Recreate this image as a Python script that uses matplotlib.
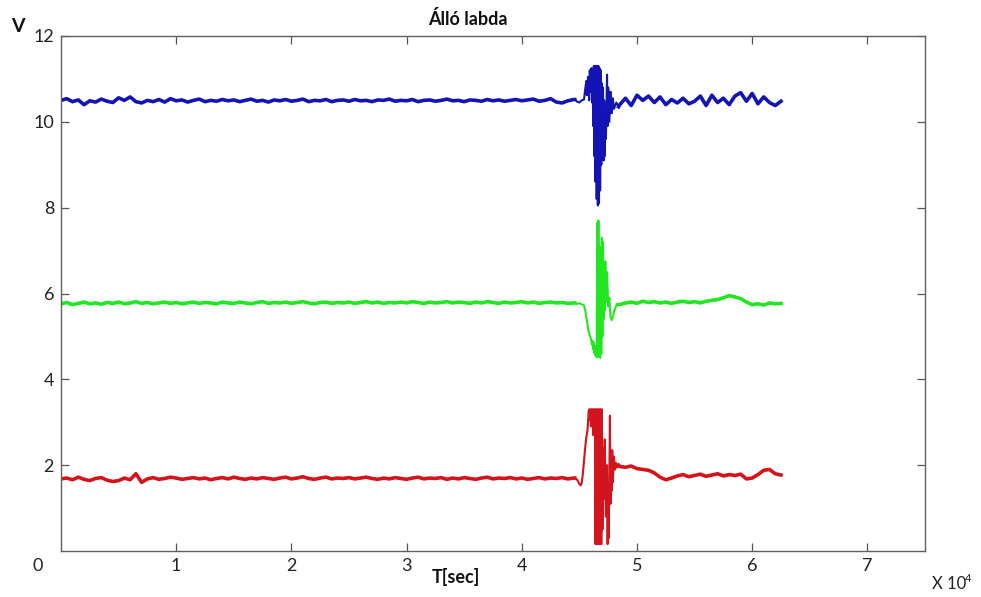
import numpy as np
import matplotlib
matplotlib.use("Agg")
import matplotlib.pyplot as plt

plt.rcParams['font.family'] = ['Lato', 'DejaVu Sans']

# ---- sample times (x 10^4 sec) ----
t_pre = np.round(np.arange(0.0, 4.45 + 1e-9, 0.05), 3)      # 90 samples
t_post = np.round(np.arange(4.85, 6.25 + 1e-9, 0.05), 3)    # 29 samples

# ---- channel 1 (blue) ----
blue_pre = [
    10.50, 10.54, 10.47, 10.51, 10.40, 10.49, 10.46, 10.53, 10.48, 10.45,
    10.56, 10.50, 10.58, 10.47, 10.44, 10.50, 10.47, 10.52, 10.46, 10.54,
    10.49, 10.51, 10.46, 10.50, 10.53, 10.47, 10.50, 10.48, 10.52, 10.49,
    10.51, 10.47, 10.50, 10.53, 10.48, 10.50, 10.46, 10.51, 10.49, 10.52,
    10.48, 10.50, 10.53, 10.47, 10.50, 10.49, 10.52, 10.47, 10.50, 10.51,
    10.48, 10.52, 10.49, 10.50, 10.47, 10.51, 10.50, 10.53, 10.48, 10.50,
    10.49, 10.52, 10.47, 10.50, 10.51, 10.48, 10.50, 10.53, 10.49, 10.50,
    10.47, 10.51, 10.50, 10.48, 10.52, 10.49, 10.51, 10.48, 10.50, 10.52,
    10.49, 10.51, 10.53, 10.48, 10.50, 10.54, 10.46, 10.44, 10.49, 10.52,
]
blue_ev_t = [4.46, 4.48, 4.50, 4.52, 4.54, 4.55, 4.56, 4.565, 4.575, 4.585,
             4.59, 4.60, 4.605, 4.61, 4.615, 4.62, 4.625, 4.63, 4.635, 4.64,
             4.645, 4.65, 4.655, 4.66, 4.665, 4.67, 4.675, 4.68, 4.685, 4.69,
             4.695, 4.70, 4.705, 4.71, 4.715, 4.72, 4.725, 4.73, 4.74, 4.745,
             4.75, 4.76, 4.77, 4.78, 4.79, 4.80, 4.82, 4.84]
blue_ev = [10.52, 10.47, 10.45, 10.50, 10.52, 10.75, 10.95, 10.62, 11.05, 10.50,
           11.20, 10.70, 11.25, 10.45, 11.00, 9.90, 11.30, 9.20, 11.30, 8.60,
           11.30, 8.20, 11.30, 8.05, 11.30, 8.10, 11.25, 8.40, 11.20, 9.00,
           10.90, 9.60, 10.80, 9.10, 10.50, 9.20, 10.20, 9.60, 11.10, 9.90,
           10.80, 10.00, 10.70, 10.20, 10.55, 10.30, 10.45, 10.35]
blue_post = [
    10.40, 10.55, 10.38, 10.62, 10.50, 10.60, 10.45, 10.58, 10.40, 10.52,
    10.44, 10.55, 10.42, 10.48, 10.60, 10.38, 10.62, 10.45, 10.55, 10.40,
    10.60, 10.68, 10.48, 10.66, 10.42, 10.58, 10.45, 10.38, 10.48,
]

# ---- channel 2 (green) ----
green_pre = [
    5.76, 5.79, 5.74, 5.77, 5.80, 5.76, 5.78, 5.75, 5.79, 5.77,
    5.80, 5.76, 5.78, 5.81, 5.77, 5.79, 5.76, 5.78, 5.80, 5.77,
    5.79, 5.76, 5.78, 5.80, 5.77, 5.79, 5.78, 5.76, 5.80, 5.78,
    5.77, 5.80, 5.78, 5.76, 5.79, 5.81, 5.77, 5.79, 5.78, 5.80,
    5.77, 5.79, 5.81, 5.78, 5.76, 5.79, 5.80, 5.77, 5.79, 5.78,
    5.80, 5.77, 5.79, 5.81, 5.78, 5.80, 5.77, 5.79, 5.78, 5.80,
    5.78, 5.81, 5.79, 5.77, 5.80, 5.78, 5.79, 5.81, 5.78, 5.80,
    5.79, 5.77, 5.80, 5.78, 5.81, 5.79, 5.77, 5.80, 5.78, 5.79,
    5.81, 5.78, 5.80, 5.77, 5.79, 5.80, 5.78, 5.79, 5.77, 5.78,
]
green_ev_t = [4.46, 4.48, 4.50, 4.52, 4.54, 4.55, 4.56, 4.57, 4.58, 4.59,
              4.60, 4.61, 4.615, 4.62, 4.625, 4.63, 4.635, 4.64, 4.645, 4.65,
              4.655, 4.66, 4.665, 4.67, 4.675, 4.68, 4.685, 4.69, 4.695, 4.70,
              4.705, 4.71, 4.715, 4.72, 4.725, 4.73, 4.74, 4.75, 4.76, 4.77,
              4.78, 4.79, 4.80, 4.81, 4.82, 4.83, 4.84]
green_ev = [5.78, 5.76, 5.77, 5.75, 5.72, 5.62, 5.45, 5.28, 5.12, 5.02,
            4.95, 4.80, 4.90, 4.70, 4.85, 4.62, 4.78, 4.55, 4.75, 4.52,
            7.65, 4.52, 7.70, 4.55, 7.10, 4.50, 6.80, 4.60, 7.30, 5.00,
            7.20, 5.40, 6.60, 5.60, 6.75, 5.80, 6.50, 5.70, 5.90, 5.45,
            5.38, 5.45, 5.58, 5.65, 5.72, 5.76, 5.74]
green_post = [
    5.74, 5.78, 5.80, 5.77, 5.82, 5.79, 5.81, 5.78, 5.80, 5.77,
    5.80, 5.82, 5.79, 5.81, 5.78, 5.82, 5.84, 5.86, 5.90, 5.95,
    5.92, 5.88, 5.80, 5.74, 5.76, 5.73, 5.78, 5.76, 5.77,
]

# ---- channel 3 (red) ----
red_pre = [
    1.68, 1.70, 1.66, 1.72, 1.67, 1.64, 1.69, 1.71, 1.65, 1.62,
    1.64, 1.70, 1.66, 1.80, 1.60, 1.68, 1.71, 1.67, 1.69, 1.72,
    1.70, 1.67, 1.69, 1.71, 1.68, 1.70, 1.66, 1.69, 1.71, 1.68,
    1.72, 1.69, 1.67, 1.70, 1.68, 1.71, 1.69, 1.67, 1.70, 1.72,
    1.68, 1.70, 1.73, 1.69, 1.67, 1.70, 1.72, 1.68, 1.70, 1.69,
    1.71, 1.68, 1.70, 1.72, 1.69, 1.67, 1.70, 1.68, 1.71, 1.69,
    1.67, 1.70, 1.72, 1.68, 1.70, 1.69, 1.71, 1.67, 1.70, 1.68,
    1.71, 1.69, 1.67, 1.70, 1.72, 1.68, 1.70, 1.69, 1.71, 1.68,
    1.70, 1.67, 1.69, 1.71, 1.68, 1.70, 1.69, 1.71, 1.68, 1.70,
]
red_ev_t = [4.46, 4.48, 4.50, 4.51, 4.52, 4.53, 4.54, 4.55, 4.56, 4.57,
            4.575, 4.58, 4.585, 4.59, 4.595, 4.60, 4.605, 4.61, 4.615, 4.62,
            4.625, 4.63, 4.635, 4.64, 4.645, 4.65, 4.655, 4.66, 4.665, 4.67,
            4.675, 4.68, 4.685, 4.69, 4.695, 4.70, 4.705, 4.71, 4.72, 4.73,
            4.74, 4.745, 4.75, 4.755, 4.765, 4.77, 4.775, 4.78, 4.785, 4.79,
            4.80, 4.81, 4.82, 4.83, 4.84]
red_ev = [1.70, 1.66, 1.56, 1.53, 1.58, 1.80, 2.10, 2.40, 2.65, 2.80,
          3.00, 3.25, 3.30, 3.05, 3.30, 2.90, 3.30, 3.10, 3.30, 2.70,
          3.30, 3.00, 3.30, 0.16, 3.30, 0.16, 3.30, 0.16, 3.30, 0.16,
          3.30, 0.16, 3.30, 0.16, 3.30, 0.50, 2.40, 1.20, 2.60, 0.80,
          2.00, 0.16, 1.50, 0.30, 3.15, 1.10, 2.20, 1.40, 2.35, 1.60,
          2.20, 1.90, 2.05, 1.95, 2.00]
red_post = [
    1.97, 1.95, 1.98, 1.92, 1.90, 1.88, 1.82, 1.72, 1.66, 1.70,
    1.75, 1.78, 1.73, 1.76, 1.79, 1.74, 1.77, 1.80, 1.75, 1.78,
    1.76, 1.79, 1.68, 1.70, 1.78, 1.88, 1.90, 1.80, 1.77,
]

x_ticks = [1, 2, 3, 4, 5, 6, 7]
y_ticks = [2, 4, 6, 8, 10, 12]

channels = [
    (blue_pre, blue_ev_t, blue_ev, blue_post, '#1414b4'),
    (green_pre, green_ev_t, green_ev, green_post, '#22e622'),
    (red_pre, red_ev_t, red_ev, red_post, '#d4141c'),
]

fig = plt.figure(figsize=(9.81, 5.97), dpi=100)
ax = fig.add_axes([61 / 981, 1 - 551 / 597, 864 / 981, 515 / 597])

for pre, ev_t, ev, post, col in channels:
    # quiet stretches drawn as a thicker trace
    ax.plot(np.concatenate([t_pre, ev_t[:1]]), np.concatenate([pre, ev[:1]]),
            color=col, lw=2.6)
    ax.plot(np.concatenate([ev_t[-1:], t_post]), np.concatenate([ev[-1:], post]),
            color=col, lw=2.6)
    # the burst oscillation with a finer trace
    ax.plot(ev_t, ev, color=col, lw=1.5)

ax.set_xlim(0, 7.5)
ax.set_ylim(0, 12)
ax.set_xticks(x_ticks)
ax.set_yticks(y_ticks)
ax.set_xticklabels([str(v) for v in x_ticks])
ax.set_yticklabels([str(v) for v in y_ticks])
ax.tick_params(direction='in', length=6, width=0.9, color='#555555',
               labelsize=13, labelcolor='#222222', top=True, right=True, pad=5)
for s in ax.spines.values():
    s.set_color('#606060')
    s.set_linewidth(1.0)

fig.text(468 / 981, 1 - 19 / 597, 'Álló labda', ha='center', va='center',
         fontsize=13, fontweight='bold', color='#111111')
fig.text(18 / 981, 1 - 27 / 597, 'V', ha='center', va='center',
         fontsize=14, fontweight='bold', color='#111111')
fig.text(38 / 981, 1 - 566 / 597, '0', ha='center', va='center',
         fontsize=13, color='#222222')
fig.text(456 / 981, 1 - 577 / 597, 'T[sec]', ha='center', va='center',
         fontsize=13, fontweight='bold', color='#111111')
fig.text(932 / 981, 1 - 584 / 597, 'X 10', ha='left', va='center',
         fontsize=12, color='#222222')
fig.text(965 / 981, 1 - 578 / 597, '4', ha='left', va='center',
         fontsize=8, color='#222222')

fig.savefig('out.png', dpi=100, facecolor='white')
